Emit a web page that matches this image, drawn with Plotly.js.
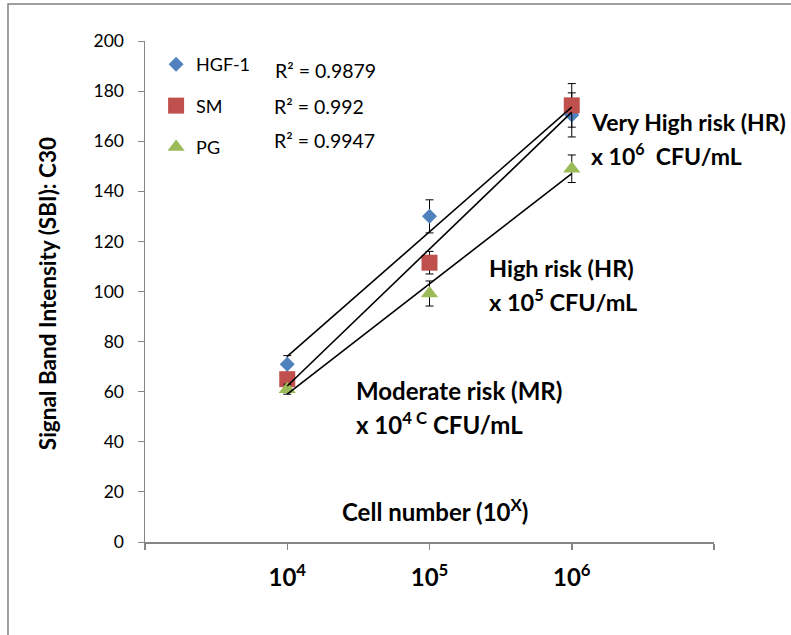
<!DOCTYPE html>
<html>
<head>
<meta charset="utf-8">
<script src="https://cdn.plot.ly/plotly-3.0.1.min.js"></script>
<style>html,body{margin:0;padding:0;background:#fff;}#chart{width:791px;height:635px;}</style>
</head>
<body>
<div id="chart"></div>
<script>
// ---- data ----
const xPos = [1, 2, 3];
const xTickVals = [0, 1, 2, 3, 4];
const xTickText = ["", "10<sup>4</sup>", "10<sup>5</sup>", "10<sup>6</sup>", ""];
const seriesNames = ["HGF-1", "SM", "PG"];
const hgf = [71, 130, 170.5];
const hgfErr = [3.4, 6.6, 8.8];
const sm = [65, 111.5, 174.3];
const smErr = [2, 4.5, 8.7];
const pg = [61, 99.2, 149];
const pgErr = [2, 5, 5.5];
const r2Labels = ["R² = 0.9879", "R² = 0.992", "R² = 0.9947"];

const FONT = "Lato, 'Open Sans', 'Liberation Sans', sans-serif";
const colors = ["#4F81BD", "#C0504D", "#9BBB59"];
const symbols = ["diamond", "square", "triangle-up"];
const sizes = [11.5, 16, 15];
const values = [hgf, sm, pg];
const errs = [hgfErr, smErr, pgErr];

function fit(x, y) {
  const n = x.length;
  const mx = x.reduce((a, b) => a + b, 0) / n;
  const my = y.reduce((a, b) => a + b, 0) / n;
  let sxy = 0, sxx = 0;
  for (let i = 0; i < n; i++) { sxy += (x[i] - mx) * (y[i] - my); sxx += (x[i] - mx) ** 2; }
  const b = sxy / sxx;
  const a = my - b * mx;
  return x.map(v => a + b * v);
}

const traces = [];
values.forEach((v, i) => {
  traces.push({
    type: "scatter", mode: "markers", x: xPos, y: v, name: seriesNames[i],
    legendgroup: "g" + i,
    marker: { symbol: symbols[i], size: sizes[i], color: colors[i], line: { width: 0 } },
    error_y: { type: "data", array: errs[i], visible: true, color: "#000", thickness: 1, width: 4 },
    hoverinfo: "x+y"
  });
});
values.forEach((v, i) => {
  traces.push({
    type: "scatter", mode: "lines", x: xPos, y: fit(xPos, v), showlegend: false,
    line: { color: "#000", width: 1.6 }, hoverinfo: "skip"
  });
});

const ann = [];
function txt(x, y, text, size, bold, extra) {
  ann.push(Object.assign({
    x: x, y: y, xref: "x", yref: "y", text: bold ? "<b>" + text + "</b>" : text,
    showarrow: false, xanchor: "left", yanchor: "middle",
    font: { family: FONT, size: size, color: "#000" }
  }, extra || {}));
}
txt(0.9, 188.4, r2Labels[0], 19.5, false);
txt(0.893, 174.0, r2Labels[1], 19.5, false);
txt(0.893, 160.1, r2Labels[2], 19.5, false);
txt(3.12, 167.7, "Very High risk (HR)", 23, true);
txt(3.12, 154.5, "x 10<sup>6</sup>  CFU/mL", 23, true);
txt(2.405, 109.4, "High risk (HR)", 23.5, true);
txt(2.405, 96.6, "x 10<sup>5</sup> CFU/mL", 23.5, true);
txt(1.47, 60.3, "Moderate risk (MR)", 24, true);
txt(1.47, 47.5, "x 10<sup>4 C</sup> CFU/mL", 24, true);
txt(2.039, 12.8, "Cell number (10<sup>X</sup>)", 24, true, { xanchor: "center" });
ann.push({
  xref: "paper", yref: "paper", x: -0.172, y: 0.495, text: "<b>Signal Band Intensity (SBI): C30</b>",
  textangle: -90, showarrow: false, xanchor: "center", yanchor: "middle",
  font: { family: FONT, size: 22.5, color: "#000" }
});

const layout = {
  width: 791, height: 635,
  margin: { l: 145, r: 77, t: 41, b: 93 },
  paper_bgcolor: "#fff", plot_bgcolor: "#fff",
  font: { family: FONT, size: 15, color: "#000" },
  showlegend: true,
  legend: {
    x: 0.0195, y: 0.99, xanchor: "left", yanchor: "top",
    bgcolor: "rgba(0,0,0,0)", borderwidth: 0,
    font: { family: FONT, size: 18, color: "#000" },
    tracegroupgap: 15, itemclick: false
  },
  xaxis: {
    range: [0, 4], tickmode: "array", tickvals: xTickVals, ticktext: xTickText,
    showgrid: false, zeroline: false, showline: true, linecolor: "#868686", linewidth: 1.5,
    ticks: "outside", ticklen: 6, tickcolor: "#868686", tickwidth: 1.5,
    tickfont: { family: FONT, size: 24, color: "#000", weight: "bold" },
    ticklabelstandoff: 8, fixedrange: true
  },
  yaxis: {
    range: [0, 200], tickmode: "linear", tick0: 0, dtick: 20,
    showgrid: false, zeroline: false, showline: true, linecolor: "#868686", linewidth: 1.5,
    ticks: "outside", ticklen: 6, tickcolor: "#868686", tickwidth: 1,
    tickfont: { family: FONT, size: 17.5, color: "#000" },
    ticklabelstandoff: 10, fixedrange: true
  },
  annotations: ann,
  shapes: [{
    type: "rect", xref: "paper", yref: "paper",
    x0: -0.2408, x1: 2, y0: -1, y1: 1.0739,
    line: { color: "#808080", width: 1.5 }, fillcolor: "rgba(0,0,0,0)", layer: "below"
  }]
};

Plotly.newPlot("chart", traces, layout, { displayModeBar: false, staticPlot: true });
</script>
</body>
</html>
